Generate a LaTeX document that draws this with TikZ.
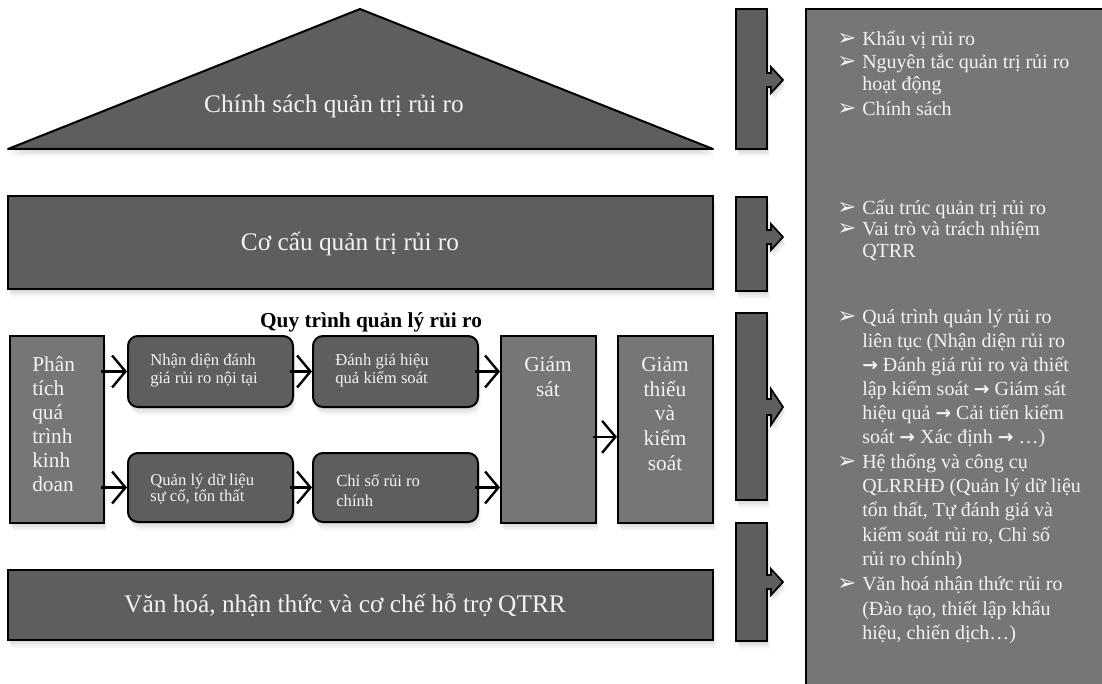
\documentclass[tikz,border=0pt]{standalone}
\usepackage{fontspec}
\setmainfont{Liberation Serif}
\newfontfamily\symfont{DejaVu Sans}
\usetikzlibrary{arrows.meta,shadows,fit}
\definecolor{dk}{RGB}{94,94,94}
\definecolor{lt}{RGB}{118,118,118}
\definecolor{txt}{RGB}{242,242,242}
\newcommand\myarr{{\symfont\bfseries\fontsize{14}{16}\selectfont →}}
\newcommand\sidearrow[5]{%
  \filldraw[fill=dk,draw=black,line width=1.3pt,line join=miter,shad]
   (736,#1) -- (767,#1) -- (767,#3-#4) -- (771,#3-#4) -- (771,#3-#5) -- (783,#3)
   -- (771,#3+#5) -- (771,#3+#4) -- (767,#3+#4) -- (767,#2) -- (736,#2) -- cycle;}
\begin{document}
\begin{tikzpicture}[x=0.75pt,y=-0.75pt,
  shad/.style={drop shadow={opacity=0.10,shadow xshift=0.5pt,shadow yshift=-1.5pt},
               drop shadow={opacity=0.10,shadow xshift=1pt,shadow yshift=-3pt},
               drop shadow={opacity=0.08,shadow xshift=1.5pt,shadow yshift=-4.5pt},
               drop shadow={opacity=0.06,shadow xshift=2pt,shadow yshift=-6pt}},
  dkbox/.style={draw=black,line width=1.5pt,fill=dk,shad,inner sep=0pt},
  ltbox/.style={draw=black,line width=1.5pt,fill=lt,shad,inner sep=0pt},
  rbox/.style={dkbox,rounded corners=7.5pt},
  big/.style={text=txt,font=\fontsize{19}{22}\selectfont,inner sep=0pt},
  side/.style={text=txt,font=\fontsize{16}{18}\selectfont,inner sep=0pt},
  small/.style={text=txt,font=\fontsize{12.5}{14}\selectfont,inner sep=0pt,anchor=mid west},
  pan/.style={text=txt,font=\fontsize{15}{18}\selectfont,inner sep=0pt,anchor=mid west},
  bul/.style={text=txt,font=\symfont\fontsize{17}{18}\selectfont,inner sep=0pt,anchor=mid west},
  arr/.style={line width=1.8pt,-{Straight Barb[length=10pt,width=24pt,line width=1.8pt]}}
]
\useasboundingbox (0,0) rectangle (1102,684);
% right panel
\filldraw[fill=lt,draw=black,line width=1.5pt] (806,9) rectangle (1115,695);
% side arrows
\sidearrow{9}{149}{80}{7}{13}
\sidearrow{197}{291}{237}{7}{13}
\sidearrow{313}{500}{407}{8}{18}
\sidearrow{523}{641}{582}{7}{13}
% triangle
\coordinate (tA) at (360,9);
\coordinate (tL) at (8,149);
\coordinate (tR) at (713,149);
\filldraw[fill=dk,draw=black,line width=1.5pt,line join=round,shad] (tL) -- (tA) -- (tR) -- cycle;
\node[big] (tri) at (334,106) {Chính sách quản trị rủi ro};
% structure box
\node[dkbox,fit={(8,196)(713,289)}] (cc) {};
\node[big] (cct) at (350,244) {Cơ cấu quản trị rủi ro};
% culture box
\node[dkbox,fit={(8,570)(713,640)}] (vh) {};
\node[big] (vht) at (345,605) {Văn hoá, nhận thức và cơ chế hỗ trợ QTRR};
% process
\node[font=\bfseries\fontsize{16}{18}\selectfont,inner sep=0pt] (title) at (371,322) {Quy trình quản lý rủi ro};
\node[ltbox,fit={(10,336)(104,523)}] (pt) {};
\foreach \t/\y in {Phân/368,tích/392,quá/416,trình/440,kinh/464,doan/488}
  \node[side,anchor=mid west] (pt-\y) at (32,\y) {\t};
\node[ltbox,fit={(501,336)(596,523)}] (gs) {};
\foreach \t/\y in {Giám/368,sát/393}
  \node[side,anchor=mid] (gs-\y) at (548,\y) {\t};
\node[ltbox,fit={(618,336)(713,523)}] (gt) {};
\foreach \t/\y in {Giảm/368,thiểu/393,và/417,kiểm/442,soát/467}
  \node[side,anchor=mid] (gt-\y) at (665,\y) {\t};
\node[rbox,fit={(128,336)(293,407)}] (n1) {};
\node[small] (n1a) at (150,362) {Nhận diện đánh};
\node[small] (n1b) at (150,380) {giá rủi ro nội tại};
\node[rbox,fit={(313,336)(478,407)}] (n2) {};
\node[small] (n2a) at (335,362) {Đánh giá hiệu};
\node[small] (n2b) at (335,380) {quả kiểm soát};
\node[rbox,fit={(128,453)(293,522)}] (n3) {};
\node[small] (n3a) at (150,482) {Quản lý dữ liệu};
\node[small] (n3b) at (150,498) {sự cố, tổn thất};
\node[rbox,fit={(313,453)(478,522)}] (n4) {};
\node[small] (n4a) at (336,483) {Chỉ số rủi ro};
\node[small] (n4b) at (336,503) {chính};
% connectors
\draw[arr] ([xshift=-3pt]pt.east |- n1.west) -- (n1.west);
\draw[arr] ([xshift=-3pt]n1.east) -- (n2.west);
\draw[arr] ([xshift=-3pt]n2.east) -- (gs.west |- n2.east);
\draw[arr] ([xshift=-3pt]pt.east |- n3.west) -- (n3.west);
\draw[arr] ([xshift=-3pt]n3.east) -- (n4.west);
\draw[arr] ([xshift=-3pt]n4.east) -- (gs.west |- n4.east);
\draw[arr] ([xshift=-3pt,yshift=-5.5pt]gs.east) -- ([yshift=-5.5pt]gt.west);
% panel text
\node[bul] (b1) at (837,42) {➢};
\node[pan] (p1) at (862,42) {Khẩu vị rủi ro};
\node[bul] (b2) at (837,65) {➢};
\node[pan] (p2) at (862,65) {Nguyên tắc quản trị rủi ro};
\node[pan] (p3) at (862,87) {hoạt động};
\node[bul] (b3) at (837,112) {➢};
\node[pan] (p4) at (862,112) {Chính sách};
\node[bul] (b4) at (837,211) {➢};
\node[pan] (p5) at (862,211) {Cấu trúc quản trị rủi ro};
\node[bul] (b5) at (837,232) {➢};
\node[pan] (p6) at (862,232) {Vai trò và trách nhiệm};
\node[pan] (p7) at (862,254) {QTRR};
\node[bul] (b6) at (837,320) {➢};
\node[pan] (p8) at (862,320) {Quá trình quản lý rủi ro};
\node[pan] (p9) at (862,344) {liên tục (Nhận diện rủi ro};
\node[pan] (p10) at (862,368) {\myarr{} Đánh giá rủi ro và thiết};
\node[pan] (p11) at (862,392) {lập kiểm soát \myarr{} Giám sát};
\node[pan] (p12) at (862,416) {hiệu quả \myarr{} Cải tiến kiểm};
\node[pan] (p13) at (862,440) {soát \myarr{} Xác định \myarr{} …)};
\node[bul] (b7) at (837,465) {➢};
\node[pan] (p14) at (862,465) {Hệ thống và công cụ};
\node[pan] (p15) at (862,489) {QLRRHĐ (Quản lý dữ liệu};
\node[pan] (p16) at (862,513) {tổn thất, Tự đánh giá và};
\node[pan] (p17) at (862,538) {kiểm soát rủi ro, Chỉ số};
\node[pan] (p18) at (862,562) {rủi ro chính)};
\node[bul] (b8) at (837,587) {➢};
\node[pan] (p19) at (862,587) {Văn hoá nhận thức rủi ro};
\node[pan] (p20) at (862,612) {(Đào tạo, thiết lập khẩu};
\node[pan] (p21) at (862,636) {hiệu, chiến dịch…)};
\end{tikzpicture}
\end{document}
